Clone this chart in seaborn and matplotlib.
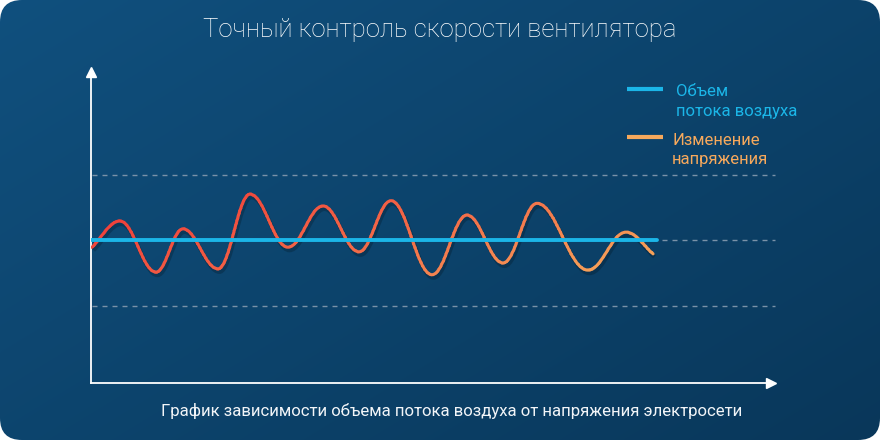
import numpy as np
import matplotlib
matplotlib.use("Agg")
import matplotlib.pyplot as plt
import seaborn as sns
from matplotlib.path import Path
from matplotlib.patches import PathPatch, FancyBboxPatch, Polygon
from matplotlib.colors import LinearSegmentedColormap, to_rgb
from matplotlib.transforms import offset_copy

# --- data ---
# voltage wave: start point, then alternating peaks / troughs, then end point
wave_x = [0.15, 4.26, 9.56, 13.53, 18.68, 23.38, 28.97, 34.12, 39.41,
          44.12, 50.15, 55.29, 60.59, 65.59, 73.09, 78.68, 82.65]
wave_y = [-0.11, 0.29, -0.49, 0.17, -0.44, 0.70, -0.11, 0.52, -0.18,
          0.60, -0.53, 0.38, -0.35, 0.56, -0.46, 0.12, -0.21]
# air flow volume (flat)
flow_x = [-0.15, 83.2]
flow_y = [0.0, 0.0]
# dashed reference levels
grid_levels = [-1.0, 0.0, 1.0]

title = "Точный контроль скорости вентилятора"
subtitle = "График зависимости объема потока воздуха от напряжения электросети"
legend_labels = ["Объем\nпотока воздуха", "Изменение\nнапряжения"]

CYAN = "#1bb6e8"
ORANGE = "#f7a95c"

sns.set_style("white")
plt.rcParams['font.family'] = ['Roboto', 'DejaVu Sans']

W, H = 880, 440
fig = plt.figure(figsize=(W / 100, H / 100), dpi=100, facecolor='white')

# background card with rounded corners
bg = fig.add_axes([0, 0, 1, 1])
bg.set_xlim(0, W)
bg.set_ylim(H, 0)
bg.axis('off')
gx = np.linspace(0, 1, W)[None, :]
gy = np.linspace(0, 1, H)[:, None]
t = 0.55 * gx + 0.45 * gy
c0 = np.array(to_rgb('#10507e'))
c1 = np.array(to_rgb('#09375a'))
img = c0 + (c1 - c0) * t[..., None]
im = bg.imshow(img, extent=[0, W, H, 0], aspect='auto', zorder=0)
card = FancyBboxPatch((0, 0), W, H, boxstyle='round,pad=0,rounding_size=22',
                      transform=bg.transData, facecolor='none', edgecolor='none')
bg.add_patch(card)
im.set_clip_path(card)

bg.text(440, 30, title, ha='center', va='center', fontsize=18.5,
        color='white', fontweight='light')
bg.text(452, 411, subtitle, ha='center', va='center', fontsize=12.1,
        color='#f2f5f8')

# legend
bg.plot([627, 663], [89, 89], color=CYAN, lw=3, solid_capstyle='butt')
bg.text(676, 84, legend_labels[0], color=CYAN, fontsize=12, va='top',
        ha='left', linespacing=1.45)
bg.plot([627, 663], [137, 137], color=ORANGE, lw=3, solid_capstyle='butt')
bg.text(672, 133, legend_labels[1], color=ORANGE, fontsize=12, va='top',
        ha='left', linespacing=1.3)

# plotting area
L, R, T, B = 91, 771, 72, 383
ax = fig.add_axes([L / W, 1 - B / H, (R - L) / W, (B - T) / H])
ax.set_facecolor('none')
ax.set_xlim(0, 100)
ax.set_ylim(-2.183, 2.565)

ax.hlines(grid_levels, 0.15, 100.6, colors='#7a92a8', linestyles=(0, (3.6, 3.6)),
          lw=1.0, clip_on=False, zorder=1)

# smooth wave through the read extrema (bezier with flat handles at extrema)
verts = [(wave_x[0], wave_y[0])]
codes = [Path.MOVETO]
n = len(wave_x)
k = 0.38
for i in range(n - 1):
    x0, y0, x1, y1 = wave_x[i], wave_y[i], wave_x[i + 1], wave_y[i + 1]
    dx = x1 - x0
    if i == 0:
        p1 = (x0 + dx * 0.33, y0 + (y1 - y0) * 0.33)
    else:
        p1 = (x0 + k * dx, y0)
    if i == n - 2:
        p2 = (x1 - dx * 0.33, y1 - (y1 - y0) * 0.33)
    else:
        p2 = (x1 - k * dx, y1)
    verts += [p1, p2, (x1, y1)]
    codes += [Path.CURVE4] * 3
wave_path = Path(verts, codes)

shadow = PathPatch(wave_path, facecolor='none', edgecolor='black', lw=3,
                   alpha=0.2, zorder=2,
                   transform=offset_copy(ax.transData, fig=fig, x=1.5, y=-3, units='dots'))
ax.add_patch(shadow)

# red -> orange gradient along the wave, via slanted clip strips
cmap = LinearSegmentedColormap.from_list('volt', ['#f0403a', '#f36a48', '#f6a45a'])
tmin, tmax, slope = -5, 90, 24
edges = np.linspace(tmin, tmax, 61)
for j, (a, b) in enumerate(zip(edges[:-1], edges[1:])):
    col = cmap(((a + b) / 2 - tmin) / (tmax - tmin))
    a0 = a - 0.3 if j > 0 else -300
    b0 = b + 0.3 if j < len(edges) - 2 else 300
    clip = Polygon([(a0 - slope * 3, -3), (b0 - slope * 3, -3),
                    (b0 + slope * 3, 3), (a0 + slope * 3, 3)],
                   closed=True, transform=ax.transData)
    p = PathPatch(wave_path, facecolor='none', edgecolor=col, lw=2.2,
                  capstyle='round', zorder=3)
    ax.add_patch(p)
    p.set_clip_path(clip)

sns.lineplot(x=flow_x, y=flow_y, ax=ax, color=CYAN, lw=2.8, zorder=5)

ax.set_xticks([])
ax.set_yticks([])
ax.set_xlabel('')
ax.set_ylabel('')
for s in ['top', 'right']:
    ax.spines[s].set_visible(False)
for s in ['left', 'bottom']:
    ax.spines[s].set_color('white')
    ax.spines[s].set_linewidth(1.3)
ax.plot([0], [1], marker='^', ms=7.5, color='white', transform=ax.transAxes, clip_on=False)
ax.plot([1], [0], marker='>', ms=7.5, color='white', transform=ax.transAxes, clip_on=False)

fig.savefig('out.png', dpi=100, facecolor='white')
